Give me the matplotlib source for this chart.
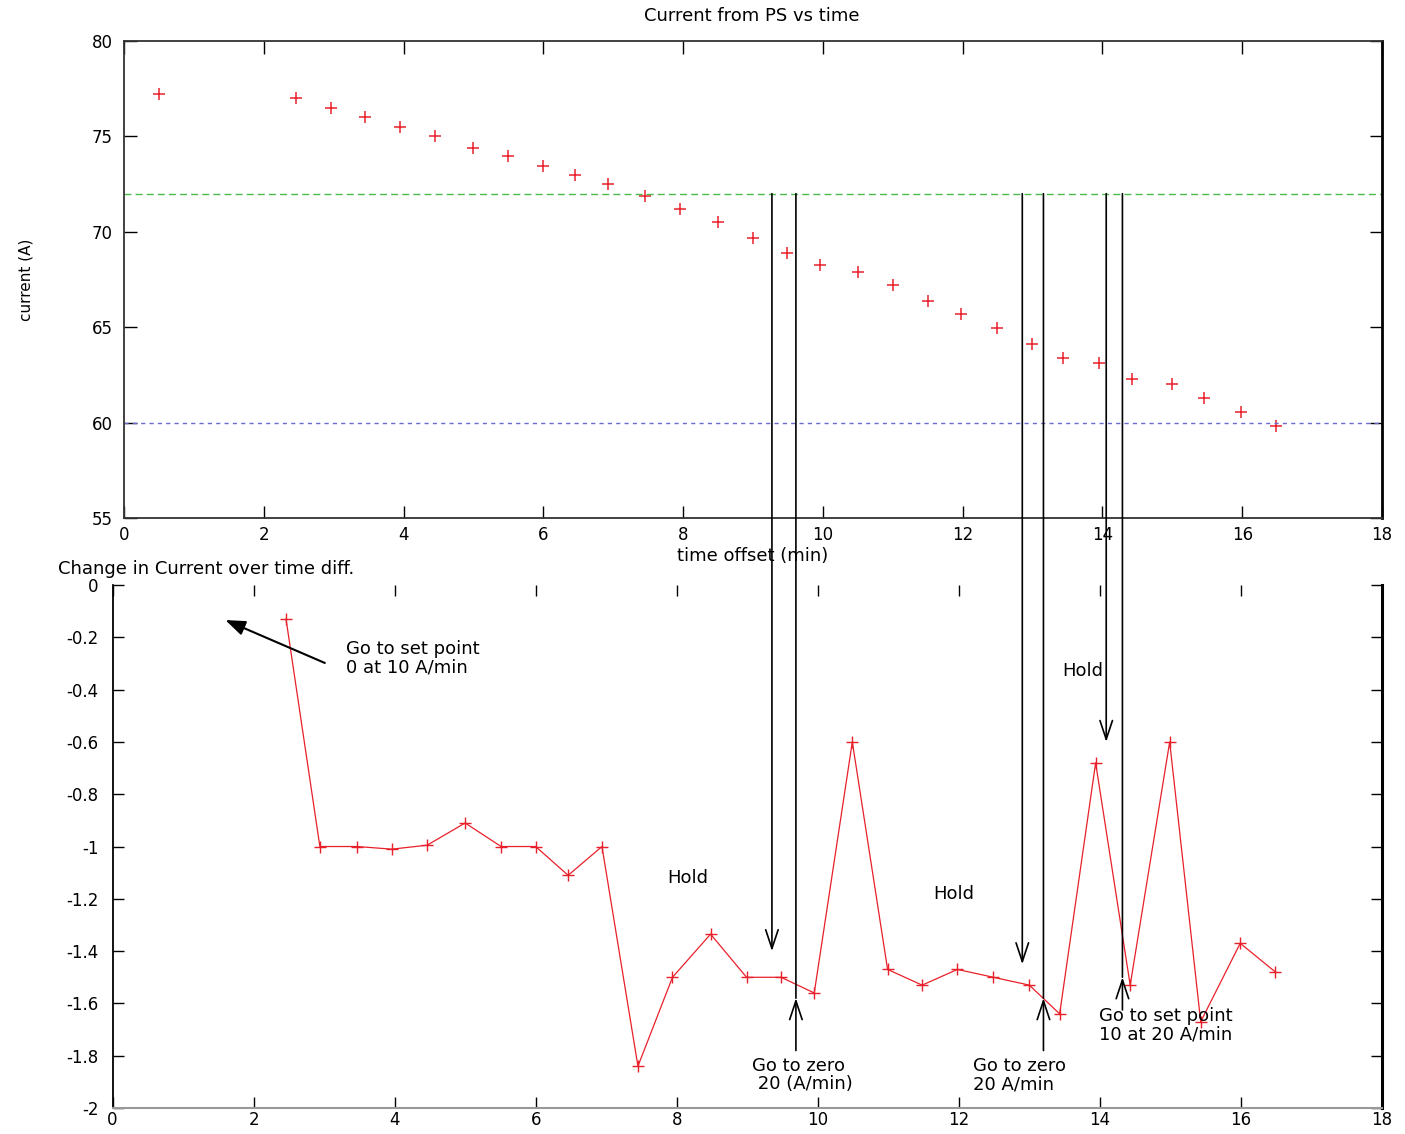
import matplotlib
matplotlib.use('Agg')
import matplotlib.pyplot as plt
import matplotlib.transforms as mtransforms

plt.rcParams['font.family'] = ['DejaVu Sans']

# Top panel: current from power supply (A) vs time offset (min)
time_top = [0.50, 2.46, 2.96, 3.45, 3.95, 4.45, 4.99, 5.50, 6.00, 6.45,
            6.92, 7.45, 7.95, 8.50, 9.00, 9.49, 9.96, 10.50, 11.00, 11.50,
            11.97, 12.49, 12.99, 13.43, 13.95, 14.43, 14.99, 15.45, 15.98, 16.48]
current = [77.2, 77.0, 76.5, 76.0, 75.5, 75.0, 74.4, 74.0, 73.45, 73.0,
           72.5, 71.9, 71.2, 70.5, 69.7, 68.9, 68.25, 67.9, 67.2, 66.4,
           65.7, 64.95, 64.1, 63.4, 63.1, 62.3, 62.0, 61.3, 60.55, 59.8]
upper_limit = 72
lower_limit = 60

# Bottom panel: change in current over time diff.
time_bot = [2.46, 2.94, 3.47, 3.96, 4.46, 5.00, 5.51, 6.00, 6.46, 6.94,
            7.45, 7.94, 8.48, 8.99, 9.48, 9.95, 10.49, 10.99, 11.48, 11.98,
            12.49, 13.00, 13.43, 13.94, 14.43, 14.99, 15.43, 15.99, 16.49]
dcurrent = [-0.13, -1.00, -1.00, -1.01, -0.995, -0.91, -1.00, -1.00, -1.11, -1.00,
            -1.84, -1.50, -1.335, -1.50, -1.50, -1.56, -0.60, -1.47, -1.53, -1.47,
            -1.50, -1.53, -1.64, -0.68, -1.53, -0.60, -1.67, -1.37, -1.48]

# long vertical markers spanning both panels
down_arrows = [(9.35, -1.40), (12.90, -1.45), (14.09, -0.60)]
up_arrows = [(9.69, -1.58, -1.78), (13.20, -1.58, -1.78), (14.32, -1.50, -1.625)]

hold_labels = [(7.87, -1.12), (11.64, -1.18), (13.47, -0.33)]
notes = [(3.31, -0.28, 'Go to set point\n0 at 10 A/min'),
         (9.07, -1.875, 'Go to zero\n 20 (A/min)'),
         (12.20, -1.875, 'Go to zero\n20 A/min'),
         (13.99, -1.683, 'Go to set point\n10 at 20 A/min')]

fig = plt.figure(figsize=(14.05, 11.34), dpi=100)
ax1 = fig.add_axes([0.0883, 0.5432, 0.8953, 0.4206])
ax2 = fig.add_axes([0.0801, 0.0229, 0.9035, 0.4612])

# ---- top panel
ax1.plot(time_top, current, linestyle='none', marker='+', color='#e8202a',
         markersize=9, markeredgewidth=1.1)
ax1.axhline(upper_limit, color='#4cbb4c', linestyle=(0, (5, 3)), linewidth=1.0)
ax1.axhline(lower_limit, color='#6a6ad0', linestyle=(0, (3, 3)), linewidth=1.0)
ax1.set_xlim(0, 18)
ax1.set_ylim(55, 80)
ax1.set_xticks(range(0, 19, 2))
ax1.set_yticks(range(55, 81, 5))
ax1.tick_params(direction='in', length=9, width=1.0, top=True, right=True,
                labelsize=12, pad=8)
ax1.tick_params(axis='x', pad=6)
ax1.set_xlabel('time offset (min)', fontsize=13, labelpad=2)
ax1.set_ylabel('current (A)', fontsize=11, labelpad=42)
for side in ['top', 'left', 'bottom']:
    ax1.spines[side].set_color('#333333')
    ax1.spines[side].set_linewidth(1.3)
ax1.spines['right'].set_linewidth(2.0)
fig.text(0.535, 0.986, 'Current from PS vs time', fontsize=13,
         ha='center', va='center')

# ---- bottom panel
ax2.plot(time_bot, dcurrent, color='#e8202a', linewidth=0.9, marker='+',
         markersize=9, markeredgewidth=1.0)
ax2.set_xlim(0, 18)
ax2.set_ylim(-2, 0)
ax2.set_xticks(range(0, 19, 2))
ax2.set_yticks([0, -0.2, -0.4, -0.6, -0.8, -1, -1.2, -1.4, -1.6, -1.8, -2])
ax2.set_yticklabels(['0', '-0.2', '-0.4', '-0.6', '-0.8', '-1', '-1.2', '-1.4',
                     '-1.6', '-1.8', '-2'])
ax2.tick_params(direction='in', length=8, width=1.0, top=True, right=True,
                labelsize=12, pad=10)
ax2.tick_params(axis='x', pad=2)
ax2.spines['top'].set_visible(False)
ax2.spines['bottom'].set_color('#999999')
ax2.spines['bottom'].set_linewidth(1.5)
ax2.spines['left'].set_linewidth(1.3)
ax2.spines['right'].set_linewidth(2.2)
fig.text(0.0413, 0.498, 'Change in Current over time diff.', fontsize=13,
         ha='left', va='center')

# vertical markers spanning both panels
span = mtransforms.blended_transform_factory(ax2.transData, ax1.transData)
head = '->,head_length=0.9,head_width=0.3'
for x, tip in down_arrows:
    ax2.annotate('', xy=(x, tip), xytext=(x, upper_limit), textcoords=span,
                 annotation_clip=False,
                 arrowprops=dict(arrowstyle=head, color='black', lw=1.2,
                                 mutation_scale=15, shrinkA=0, shrinkB=0))
for x, tip, low in up_arrows:
    ax2.annotate('', xy=(x, tip), xytext=(x, low),
                 annotation_clip=False,
                 arrowprops=dict(arrowstyle=head, color='black', lw=1.2,
                                 mutation_scale=15, shrinkA=0, shrinkB=0))
    ax2.annotate('', xy=(x, tip), xytext=(x, upper_limit), textcoords=span,
                 annotation_clip=False,
                 arrowprops=dict(arrowstyle='-', color='black', lw=1.2,
                                 shrinkA=0, shrinkB=0))

# set point arrow
ax2.annotate('', xy=(1.60, -0.134), xytext=(3.01, -0.298),
             arrowprops=dict(arrowstyle='-|>,head_length=0.8,head_width=0.3',
                             color='black', lw=1.5, mutation_scale=15,
                             shrinkA=0, shrinkB=0))

for x, y in hold_labels:
    ax2.text(x, y, 'Hold', fontsize=13, ha='left', va='center')
for x, y, s in notes:
    ax2.text(x, y, s, fontsize=13, ha='left', va='center', linespacing=1.0)

fig.savefig('out.png', dpi=100)
